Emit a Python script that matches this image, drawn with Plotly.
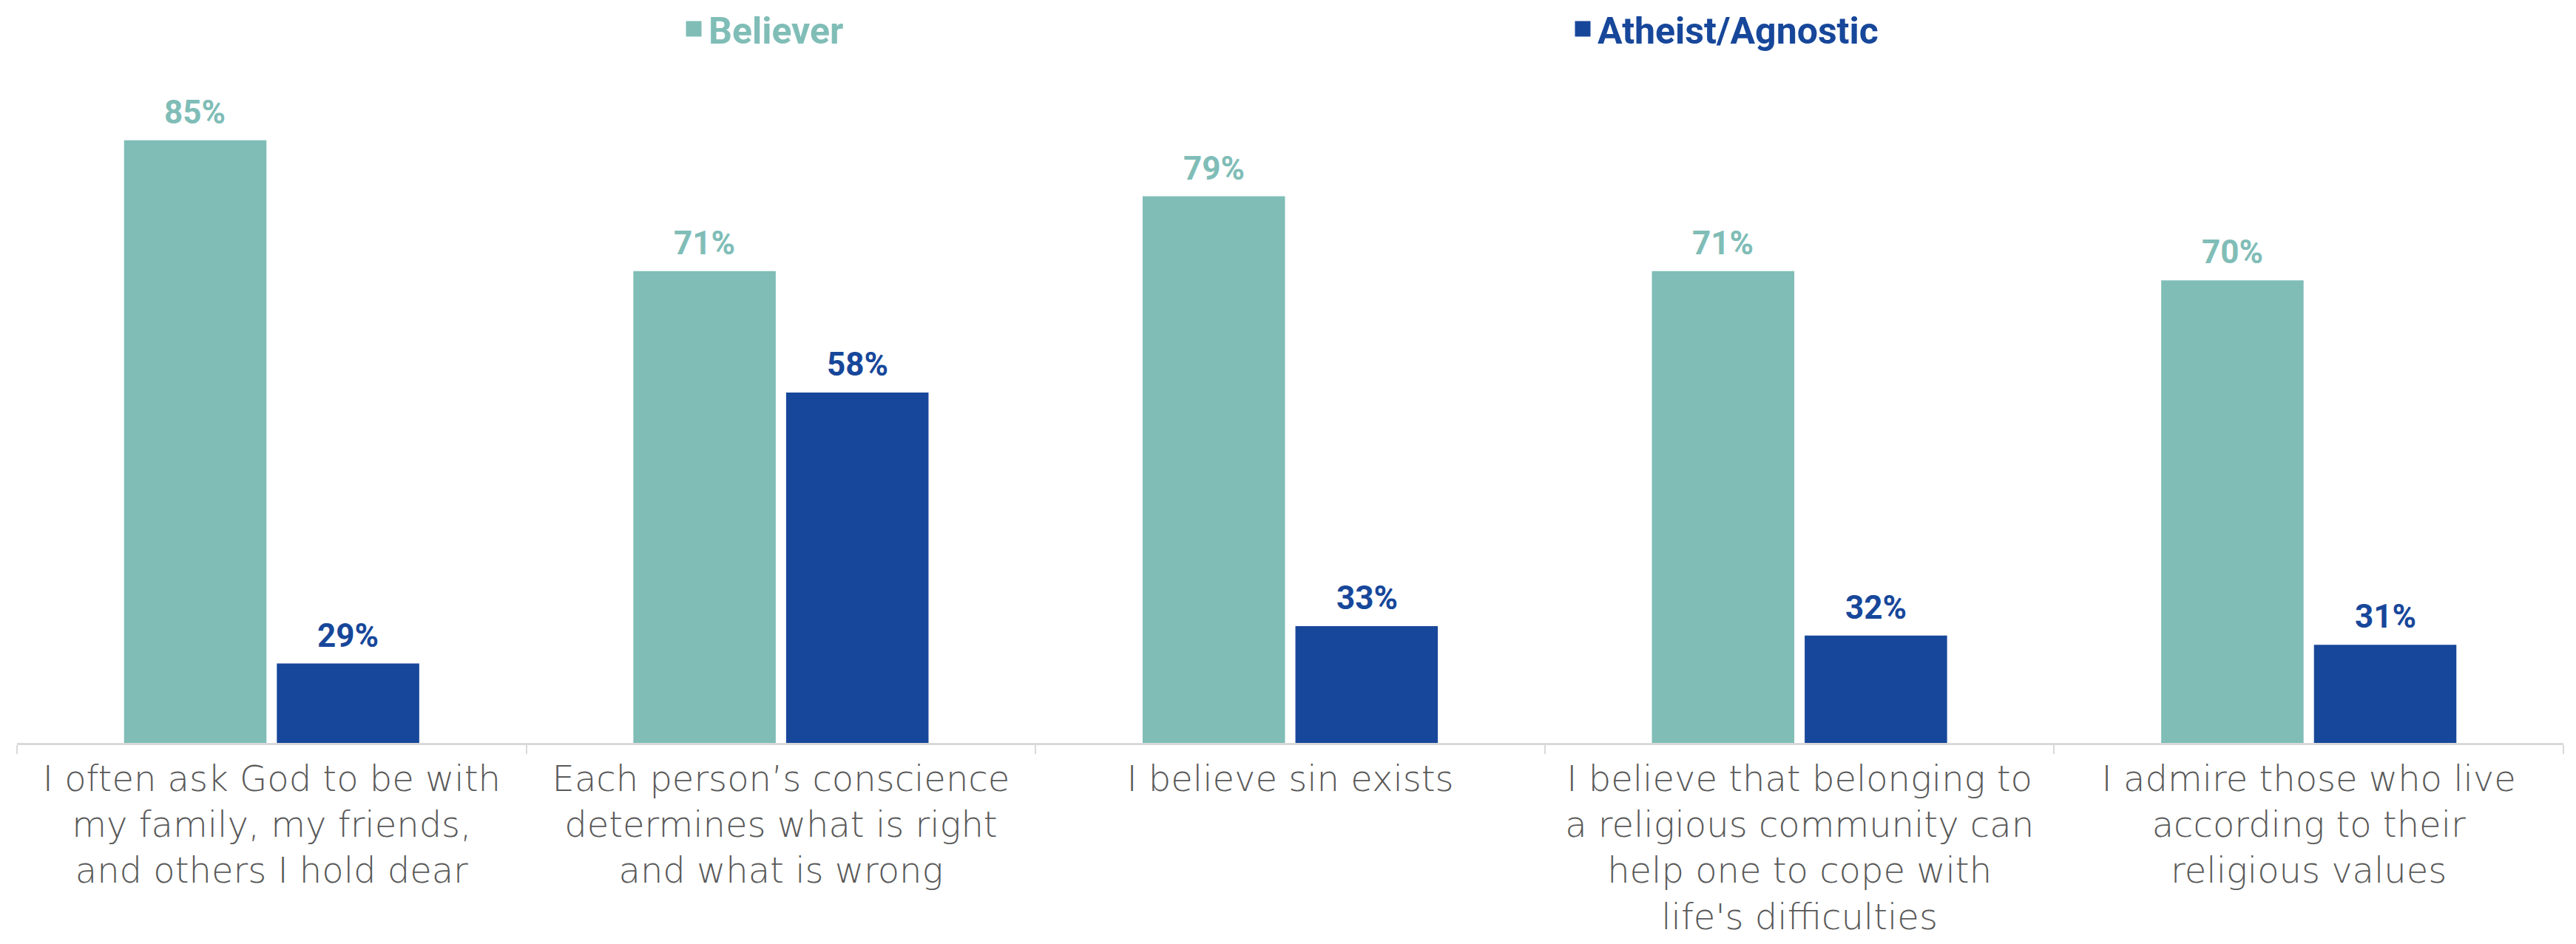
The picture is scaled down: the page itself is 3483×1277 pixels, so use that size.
import plotly.graph_objects as go

categories = [
    "I often ask God to be with<br>my family, my friends,<br>and others I hold dear",
    "Each person’s conscience<br>determines what is right<br>and what is wrong",
    "I believe sin exists",
    "I believe that belonging to<br>a religious community can<br>help one to cope with<br>life's difficulties",
    "I admire those who live<br>according to their<br>religious values",
]
believer = [85, 71, 79, 71, 70]
atheist = [29, 58, 33, 32, 31]
series_names = ["Believer", "Atheist/Agnostic"]
colors = ["#80BDB7", "#17479A"]

W, H = 3483, 1277
ML, MR, MT, MB = 23, 17, 60, 272
Y0 = 20.5
PX_PER_UNIT = 12.64
plot_h = H - MT - MB
y_top = Y0 + plot_h / PX_PER_UNIT

label_font = "Roboto"
tick_font = "DejaVu Sans"

fig = go.Figure()
for name, vals, col in zip(series_names, [believer, atheist], colors):
    fig.add_trace(go.Bar(
        x=categories, y=vals, name=name,
        marker=dict(color=col, line=dict(width=0)),
        showlegend=False, hoverinfo="skip",
    ))

# legend entries (square keys)
for name, col, leg in zip(series_names, colors, ["legend", "legend2"]):
    fig.add_trace(go.Scatter(
        x=[None], y=[None], mode="markers", name=name, legend=leg,
        marker=dict(symbol="square", size=16, color=col, line=dict(width=5, color=col)),
        hoverinfo="skip",
    ))

# value labels as annotations over each bar
offsets = [-103.5, 103.5]
for vals, col, dx in zip([believer, atheist], colors, offsets):
    for c, v in zip(categories, vals):
        fig.add_annotation(
            x=c, y=v, xref="x", yref="y", text=f"<b>{v}%</b>",
            showarrow=False, xshift=dx, yanchor="bottom", yshift=10,
            font=dict(family=label_font, size=44, color=col),
        )

fig.update_layout(
    width=W, height=H,
    margin=dict(l=ML, r=MR, t=MT, b=MB, autoexpand=False),
    paper_bgcolor="white", plot_bgcolor="white",
    barmode="group", bargap=0.40, bargroupgap=0.068,
    showlegend=True,
    legend=dict(
        x=(918 - ML) / (W - ML - MR), xanchor="left",
        yref="container", y=1.0, yanchor="top",
        font=dict(family=label_font, size=50, color=colors[0], weight="bold"),
        bgcolor="rgba(0,0,0,0)", orientation="h",
    ),
    legend2=dict(
        x=(2120 - ML) / (W - ML - MR), xanchor="left",
        yref="container", y=1.0, yanchor="top",
        font=dict(family=label_font, size=50, color=colors[1], weight="bold"),
        bgcolor="rgba(0,0,0,0)", orientation="h",
    ),
    xaxis=dict(
        type="category", tickson="boundaries", ticks="outside", ticklen=12,
        tickwidth=2, tickcolor="#d9d9d9", showline=True, linecolor="#d9d9d9",
        linewidth=3, showgrid=False, zeroline=False, automargin=False,
        ticklabelstandoff=4,
        tickfont=dict(family=tick_font, size=48, color="#595959", weight=300),
    ),
    yaxis=dict(range=[Y0, y_top], visible=False, showgrid=False, zeroline=False),
)

fig.write_html(
    "out.html",
    config={"displayModeBar": False},
    post_script="document.body.style.margin='0';document.body.style.overflow='hidden';",
)
